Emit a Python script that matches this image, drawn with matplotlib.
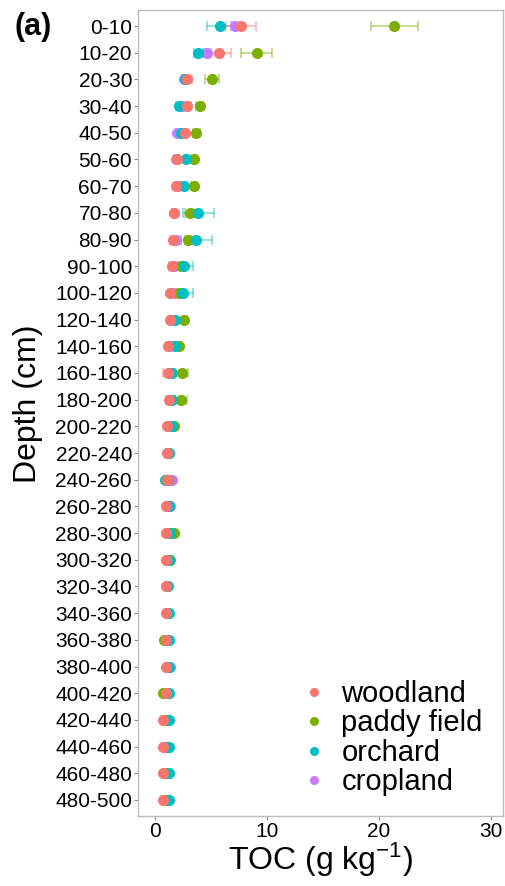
import matplotlib
matplotlib.use("Agg")
import matplotlib.pyplot as plt
from matplotlib.lines import Line2D
import numpy as np

plt.rcParams["font.family"] = ["Liberation Sans", "DejaVu Sans"]
plt.rcParams["mathtext.default"] = "regular"

depths = ["0-10", "10-20", "20-30", "30-40", "40-50", "50-60", "60-70", "70-80",
          "80-90", "90-100", "100-120", "120-140", "140-160", "160-180", "180-200",
          "200-220", "220-240", "240-260", "260-280", "280-300", "300-320",
          "320-340", "340-360", "360-380", "380-400", "400-420", "420-440",
          "440-460", "460-480", "480-500"]

woodland_mean = [7.7, 5.7, 2.9, 2.9, 2.7, 2.0, 1.9, 1.7, 1.6, 1.5, 1.4, 1.4, 1.2, 1.2, 1.3,
                 1.1, 1.1, 1.1, 1.0, 1.0, 1.0, 1.0, 1.0, 1.0, 1.0, 1.0, 0.7, 0.7, 0.7, 0.7]
woodland_se = [1.3, 1.1, 0.4, 0.3, 0.3, 0.2, 0.2, 0.2, 0.2, 0.2, 0.2, 0.2, 0.2, 0.5, 0.3,
               0.1, 0.1, 0.1, 0.1, 0.1, 0.1, 0.1, 0.1, 0.1, 0.1, 0.1, 0.1, 0.1, 0.1, 0.1]

paddy_mean = [21.4, 9.1, 5.1, 4.0, 3.7, 3.5, 3.5, 3.1, 3.0, 2.3, 2.2, 2.6, 2.2, 2.4, 2.3,
              1.7, 1.2, 1.2, 1.2, 1.7, 1.4, 1.1, 1.1, 0.8, 1.1, 0.7, 1.0, 1.0, 1.0, 1.0]
paddy_se = [2.1, 1.4, 0.6, 0.3, 0.3, 0.3, 0.3, 0.4, 0.3, 0.3, 0.3, 0.3, 0.2, 0.6, 0.6,
            0.2, 0.1, 0.1, 0.1, 0.1, 0.1, 0.1, 0.1, 0.1, 0.1, 0.1, 0.1, 0.1, 0.1, 0.1]

orchard_mean = [5.8, 3.9, 2.7, 2.2, 2.3, 2.8, 2.6, 3.9, 3.7, 2.6, 2.5, 1.8, 1.8, 1.5, 1.5,
                1.5, 1.3, 0.9, 1.3, 1.4, 1.3, 1.2, 1.3, 1.3, 1.3, 1.3, 1.3, 1.3, 1.3, 1.3]
orchard_se = [1.1, 0.4, 0.3, 0.3, 0.2, 0.2, 0.2, 1.4, 1.4, 0.8, 0.9, 0.2, 0.2, 0.3, 0.3,
              0.1, 0.1, 0.1, 0.1, 0.1, 0.1, 0.1, 0.1, 0.1, 0.1, 0.1, 0.1, 0.1, 0.1, 0.1]

cropland_mean = [7.2, 4.7, 2.6, 2.4, 2.0, 1.9, 2.1, 1.7, 1.9, 1.7, 1.7, 1.6, 1.4, 1.4, 1.4,
                 1.3, 1.3, 1.5, 1.4, 1.3, 1.2, 1.1, 1.1, 1.1, 1.4, 1.2, 1.1, 1.2, 1.1, 1.1]
cropland_se = [0.4, 0.3, 0.2, 0.2, 0.2, 0.2, 0.2, 0.2, 0.2, 0.2, 0.2, 0.2, 0.2, 0.2, 0.2,
               0.1, 0.1, 0.1, 0.1, 0.1, 0.1, 0.1, 0.1, 0.1, 0.1, 0.1, 0.1, 0.1, 0.1, 0.1]

land_uses = ["woodland", "paddy field", "orchard", "cropland"]
colors = {"woodland": "#F8766D", "paddy field": "#7CAE00",
          "orchard": "#00BFC4", "cropland": "#C77CFF"}
series = {"woodland": (woodland_mean, woodland_se),
          "paddy field": (paddy_mean, paddy_se),
          "orchard": (orchard_mean, orchard_se),
          "cropland": (cropland_mean, cropland_se)}

W, H = 505, 886
fig = plt.figure(figsize=(W / 100, H / 100), dpi=100)
left_px, right_px, top_px, bottom_px = 138, 503, 10, 816
ax = fig.add_axes([left_px / W, 1 - bottom_px / H,
                   (right_px - left_px) / W, (bottom_px - top_px) / H])

ypos = np.arange(len(depths))
draw_order = ["cropland", "paddy field", "orchard", "woodland"]

for name in draw_order:
    m, s = series[name]
    ax.errorbar(m, ypos, xerr=s, fmt="none", ecolor=colors[name], alpha=0.55,
                elinewidth=1.1, capsize=3.6, capthick=1.1, zorder=2)
for i, name in enumerate(draw_order):
    m, s = series[name]
    ax.plot(m, ypos, "o", color=colors[name], markersize=8.0,
            markeredgewidth=0, zorder=3 + i)

ax.set_xlim(-1.5, 31.1)
ax.set_ylim(len(depths) - 0.4, -0.6)
ax.set_yticks(ypos)
ax.set_yticklabels(depths)
ax.set_xticks([0, 10, 20, 30])

for sp in ax.spines.values():
    sp.set_color("#BDBDBD")
    sp.set_linewidth(1.0)
ax.tick_params(axis="both", colors="#8C8C8C", length=2.8, width=0.8,
               labelcolor="black", labelsize=15, pad=1.5)

ax.set_xlabel("TOC (g kg$^{-1}$)", fontsize=23, labelpad=0)
fig.text(28 / W, 1 - 404 / H, "Depth (cm)", rotation=90,
         ha="center", va="center", fontsize=23)
fig.text(14 / W, 1 - 27 / H, "(a)", fontsize=22, fontweight="bold",
         ha="left", va="center")

handles = [Line2D([], [], marker="o", linestyle="none", color=colors[n],
                  markersize=6.5, markeredgewidth=0) for n in land_uses]
fig.legend(handles, land_uses, loc="upper left",
           bbox_to_anchor=(299 / W, 1 - 680 / H), frameon=False,
           fontsize=21, handletextpad=0.45, labelspacing=0.05,
           handlelength=1.0, borderpad=0, borderaxespad=0)

fig.savefig("out.png", dpi=100)
